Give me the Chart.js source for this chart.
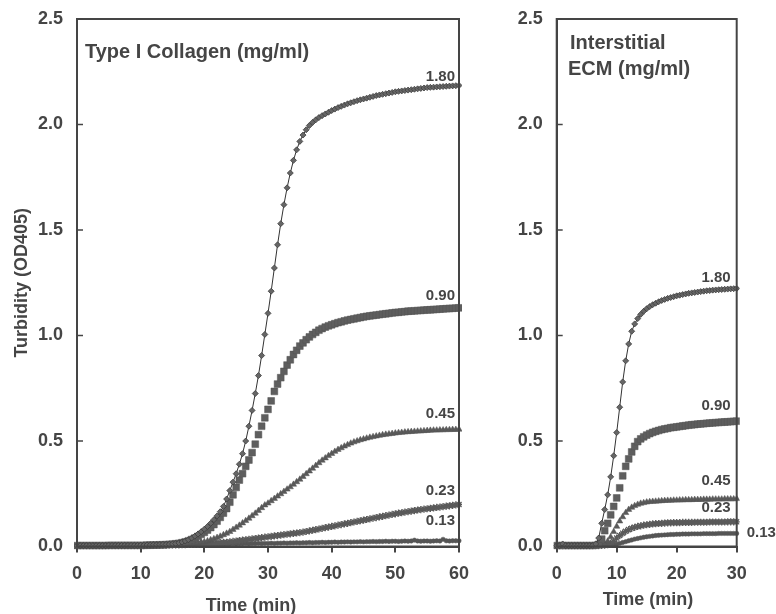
<!DOCTYPE html>
<html>
<head>
<meta charset="utf-8">
<title>Turbidity (OD405)</title>
<script src="https://cdn.jsdelivr.net/npm/chart.js@4.4.1/dist/chart.umd.min.js"></script>
<style>
  html, body { margin: 0; padding: 0; background: #fff; }
  body { width: 776px; height: 614px; position: relative; overflow: hidden; }
  canvas { position: absolute; top: 0; }
  #collagen { left: 0; }
  #ecm { left: 480px; }
</style>
</head>
<body>
<canvas id="collagen" width="470" height="614"></canvas>
<canvas id="ecm" width="296" height="614"></canvas>
<script>
// readings every 0.5 min
const STEP = 0.5;

const concLabels = ['1.80', '0.90', '0.45', '0.23', '0.13'];
const yTicks = [0, 0.5, 1.0, 1.5, 2.0, 2.5];
const xTicksCollagen = [0, 10, 20, 30, 40, 50, 60];
const xTicksEcm = [0, 10, 20, 30];

// Type I collagen, 0-60 min
const col180 = [
  0.004,0.004,0.004,0.004,0.004,0.004,0.004,0.004,0.004,0.004,
  0.005,0.005,0.005,0.005,0.005,0.005,0.005,0.005,0.005,0.005,
  0.006,0.006,0.007,0.007,0.008,0.008,0.009,0.010,0.010,0.011,
  0.012,0.014,0.017,0.021,0.026,0.032,0.040,0.049,0.059,0.070,
  0.082,0.095,0.110,0.127,0.145,0.165,0.190,0.225,0.265,0.305,
  0.345,0.390,0.440,0.500,0.570,0.645,0.725,0.810,0.905,1.005,
  1.105,1.210,1.320,1.430,1.530,1.620,1.700,1.770,1.830,1.880,
  1.920,1.950,1.975,1.995,2.010,2.022,2.033,2.042,2.050,2.058,
  2.066,2.073,2.080,2.086,2.092,2.098,2.103,2.108,2.113,2.117,
  2.121,2.125,2.129,2.133,2.137,2.140,2.143,2.146,2.149,2.152,
  2.155,2.157,2.159,2.161,2.163,2.165,2.167,2.169,2.171,2.173,
  2.175,2.176,2.177,2.178,2.179,2.180,2.181,2.182,2.183,2.184,
  2.185
];
const col090 = [
  0.004,0.004,0.004,0.004,0.004,0.004,0.004,0.004,0.004,0.004,
  0.005,0.005,0.005,0.005,0.005,0.005,0.005,0.005,0.005,0.005,
  0.005,0.005,0.006,0.006,0.007,0.007,0.008,0.008,0.009,0.010,
  0.011,0.013,0.015,0.018,0.022,0.027,0.033,0.040,0.048,0.057,
  0.067,0.078,0.090,0.104,0.120,0.138,0.158,0.180,0.210,0.245,
  0.280,0.315,0.345,0.380,0.410,0.445,0.485,0.530,0.570,0.610,
  0.650,0.690,0.735,0.770,0.800,0.830,0.860,0.885,0.910,0.930,
  0.950,0.965,0.980,0.993,1.005,1.015,1.025,1.033,1.040,1.046,
  1.051,1.056,1.061,1.065,1.069,1.073,1.076,1.079,1.082,1.085,
  1.088,1.091,1.093,1.095,1.097,1.099,1.101,1.103,1.105,1.107,
  1.109,1.110,1.112,1.113,1.115,1.116,1.117,1.118,1.119,1.120,
  1.121,1.122,1.123,1.124,1.125,1.126,1.127,1.128,1.129,1.130,
  1.131
];
const col045 = [
  0.004,0.004,0.004,0.004,0.004,0.004,0.004,0.004,0.004,0.004,
  0.004,0.004,0.004,0.004,0.004,0.004,0.004,0.004,0.004,0.004,
  0.004,0.005,0.005,0.005,0.006,0.006,0.006,0.007,0.007,0.008,
  0.008,0.009,0.010,0.011,0.012,0.013,0.015,0.017,0.019,0.021,
  0.022,0.026,0.031,0.036,0.042,0.048,0.055,0.062,0.070,0.080,
  0.090,0.100,0.111,0.122,0.133,0.145,0.157,0.170,0.183,0.196,
  0.205,0.216,0.227,0.238,0.249,0.260,0.271,0.282,0.294,0.306,
  0.318,0.331,0.344,0.357,0.370,0.383,0.396,0.408,0.419,0.430,
  0.440,0.450,0.459,0.467,0.475,0.482,0.489,0.495,0.500,0.505,
  0.509,0.513,0.517,0.520,0.523,0.526,0.529,0.531,0.533,0.535,
  0.537,0.539,0.540,0.542,0.543,0.544,0.545,0.546,0.547,0.548,
  0.549,0.550,0.551,0.551,0.552,0.552,0.553,0.553,0.554,0.554,
  0.555
];
const col023 = [
  0.004,0.004,0.004,0.004,0.004,0.004,0.004,0.004,0.004,0.004,
  0.004,0.004,0.004,0.004,0.004,0.004,0.004,0.004,0.004,0.004,
  0.004,0.004,0.005,0.005,0.005,0.005,0.006,0.006,0.006,0.007,
  0.007,0.008,0.008,0.009,0.009,0.010,0.010,0.011,0.011,0.012,
  0.013,0.014,0.015,0.016,0.017,0.018,0.019,0.020,0.022,0.024,
  0.026,0.028,0.030,0.032,0.034,0.036,0.038,0.040,0.042,0.044,
  0.046,0.048,0.050,0.052,0.054,0.056,0.058,0.060,0.062,0.064,
  0.066,0.068,0.071,0.074,0.077,0.080,0.083,0.086,0.089,0.092,
  0.095,0.098,0.101,0.104,0.107,0.110,0.113,0.116,0.119,0.122,
  0.125,0.128,0.131,0.134,0.137,0.140,0.143,0.146,0.149,0.152,
  0.155,0.158,0.160,0.163,0.165,0.168,0.170,0.173,0.175,0.177,
  0.179,0.181,0.183,0.185,0.187,0.189,0.191,0.193,0.195,0.197,
  0.199
];
const col013 = [
  0.003,0.004,0.003,0.004,0.004,0.003,0.004,0.004,0.005,0.004,
  0.004,0.005,0.004,0.005,0.005,0.004,0.005,0.005,0.006,0.005,
  0.005,0.006,0.006,0.005,0.006,0.007,0.006,0.007,0.007,0.008,
  0.007,0.008,0.008,0.009,0.008,0.009,0.009,0.010,0.009,0.010,
  0.010,0.011,0.010,0.011,0.011,0.012,0.011,0.012,0.012,0.013,
  0.012,0.013,0.013,0.014,0.013,0.014,0.014,0.015,0.014,0.015,
  0.015,0.016,0.015,0.016,0.016,0.017,0.016,0.017,0.017,0.018,
  0.017,0.018,0.018,0.019,0.018,0.019,0.019,0.020,0.019,0.020,
  0.020,0.021,0.020,0.021,0.021,0.022,0.021,0.022,0.022,0.023,
  0.022,0.023,0.023,0.024,0.023,0.024,0.024,0.025,0.024,0.025,
  0.025,0.024,0.025,0.026,0.025,0.026,0.030,0.026,0.025,0.026,
  0.026,0.025,0.026,0.027,0.026,0.034,0.027,0.026,0.027,0.027,
  0.027
];

// interstitial ECM, 0-30 min
const ecm180 = [
  0.004,0.004,0.012,0.004,0.004,0.004,0.004,0.004,0.004,0.004,
  0.004,0.004,0.005,0.012,0.040,0.110,0.175,0.245,0.330,0.430,
  0.540,0.660,0.780,0.880,0.960,1.020,1.055,1.080,1.100,1.115,
  1.127,1.137,1.146,1.153,1.160,1.166,1.171,1.176,1.180,1.184,
  1.188,1.191,1.194,1.197,1.200,1.202,1.204,1.206,1.208,1.210,
  1.212,1.213,1.215,1.216,1.217,1.218,1.219,1.220,1.221,1.222,
  1.223
];
const ecm090 = [
  0.004,0.004,0.004,0.004,0.004,0.004,0.004,0.004,0.004,0.004,
  0.004,0.004,0.004,0.005,0.010,0.035,0.075,0.110,0.150,0.190,
  0.230,0.278,0.335,0.380,0.415,0.448,0.475,0.497,0.510,0.520,
  0.528,0.535,0.541,0.546,0.550,0.554,0.557,0.560,0.563,0.565,
  0.567,0.569,0.571,0.573,0.575,0.577,0.578,0.580,0.581,0.582,
  0.584,0.585,0.586,0.587,0.588,0.589,0.590,0.591,0.592,0.593,
  0.594
];
const ecm045 = [
  0.004,0.004,0.004,0.004,0.004,0.004,0.004,0.004,0.004,0.004,
  0.004,0.004,0.004,0.004,0.005,0.007,0.012,0.025,0.045,0.070,
  0.095,0.120,0.140,0.160,0.175,0.185,0.193,0.199,0.204,0.207,
  0.210,0.212,0.213,0.214,0.215,0.216,0.217,0.218,0.218,0.219,
  0.219,0.220,0.220,0.221,0.221,0.221,0.222,0.222,0.222,0.223,
  0.223,0.223,0.224,0.224,0.224,0.224,0.225,0.225,0.225,0.225,
  0.226
];
const ecm023 = [
  0.004,0.004,0.004,0.004,0.004,0.004,0.004,0.004,0.004,0.004,
  0.004,0.004,0.004,0.004,0.004,0.005,0.006,0.009,0.015,0.025,
  0.040,0.052,0.063,0.072,0.080,0.086,0.091,0.095,0.098,0.101,
  0.103,0.105,0.107,0.108,0.109,0.110,0.111,0.112,0.112,0.113,
  0.113,0.113,0.114,0.114,0.114,0.114,0.115,0.115,0.115,0.115,
  0.115,0.116,0.116,0.116,0.116,0.116,0.116,0.117,0.117,0.117,
  0.117
];
const ecm013 = [
  0.003,0.003,0.003,0.003,0.003,0.003,0.003,0.003,0.003,0.003,
  0.003,0.003,0.003,0.003,0.003,0.003,0.004,0.005,0.006,0.008,
  0.011,0.015,0.019,0.023,0.027,0.031,0.035,0.038,0.041,0.044,
  0.046,0.048,0.050,0.052,0.053,0.054,0.055,0.056,0.057,0.057,
  0.058,0.058,0.059,0.059,0.059,0.060,0.060,0.060,0.060,0.061,
  0.061,0.061,0.061,0.061,0.062,0.062,0.062,0.062,0.062,0.062,
  0.062
];

const INK = '#454545';
const FONT = '"Liberation Sans", Arial, Helvetica, sans-serif';

// one marker per concentration, in concLabels order
const markers = [
  { style: 'rectRot',  r: 3,   fill: '#666', edge: '#3d3d3d', bw: 0.8, line: 1 },
  { style: 'rect',     r: 4.8, fill: '#5e5e5e', edge: '#555', bw: 0.5, line: 0 },
  { style: 'triangle', r: 3.6, fill: '#5a5a5a', edge: '#555', bw: 0.5, line: 0 },
  { style: 'star',     r: 3.6, fill: '#5a5a5a', edge: '#5a5a5a', bw: 1.3, line: 0 },
  { style: 'circle',   r: 2.2, fill: '#555', edge: '#555', bw: 0.5, line: 2 }
];

const points = vals => vals.map((v, i) => ({ x: i * STEP, y: v }));

function datasets(series) {
  return series.map((vals, i) => {
    const m = markers[i];
    return {
      label: concLabels[i],
      data: points(vals),
      showLine: m.line > 0,
      borderColor: '#333',
      borderWidth: m.line,
      pointStyle: m.style,
      pointRadius: m.r,
      pointHoverRadius: m.r,
      pointBackgroundColor: m.fill,
      pointBorderColor: m.edge,
      pointBorderWidth: m.bw,
      clip: 3
    };
  });
}

// frame, inward y ticks, panel heading, x title and concentration labels
function panelPlugin(cfg) {
  return {
    id: 'panelDecor',
    afterDraw(chart) {
      const { ctx, chartArea: a, scales: { y } } = chart;
      ctx.save();
      ctx.strokeStyle = INK;
      ctx.lineWidth = 2;
      ctx.strokeRect(a.left, a.top, a.right - a.left, a.bottom - a.top);
      ctx.lineWidth = 1.5;
      y.ticks.forEach(t => {
        const py = y.getPixelForValue(t.value);
        ctx.beginPath();
        ctx.moveTo(a.left, py);
        ctx.lineTo(a.left + 6, py);
        ctx.stroke();
      });

      ctx.fillStyle = INK;
      ctx.textAlign = 'left';
      ctx.textBaseline = 'alphabetic';
      ctx.font = `bold 20px ${FONT}`;
      cfg.heading.forEach(([txt, tx, ty]) => ctx.fillText(txt, tx, ty));

      ctx.textAlign = 'center';
      ctx.font = `bold 18px ${FONT}`;
      ctx.fillText('Time (min)', cfg.xTitle[0], cfg.xTitle[1]);

      ctx.font = `bold 15px ${FONT}`;
      ctx.textBaseline = 'middle';
      chart.data.datasets.forEach((ds, i) => {
        const last = ds.data[ds.data.length - 1];
        const py = y.getPixelForValue(last.y) - cfg.lift[i];
        if (cfg.outside[i]) {
          ctx.textAlign = 'left';
          ctx.fillText(ds.label, a.right + 10, py);
        } else {
          ctx.textAlign = 'right';
          ctx.fillText(ds.label, a.right - cfg.gap, py);
        }
      });
      ctx.restore();
    }
  };
}

function makePanel(id, series, xMax, xTicks, opts) {
  const canvas = document.getElementById(id);
  return new Chart(canvas, {
    type: 'scatter',
    data: { datasets: datasets(series) },
    options: {
      responsive: false,
      animation: false,
      devicePixelRatio: 1,
      layout: { padding: { top: 19, right: opts.padRight, left: 0, bottom: 0 } },
      plugins: { legend: { display: false }, tooltip: { enabled: false } },
      scales: {
        x: {
          type: 'linear',
          min: 0, max: xMax,
          afterBuildTicks: s => { s.ticks = xTicks.map(v => ({ value: v })); },
          afterFit: s => {
            s.height = 614 - 546.5;
            s.paddingLeft = 0;
            s.paddingRight = 0;
          },
          ticks: {
            color: INK, padding: 11,
            font: { family: FONT, size: 18, weight: 'bold' },
            callback: v => String(v)
          },
          grid: { drawOnChartArea: false, drawTicks: true, tickLength: 6, lineWidth: 2, color: INK },
          border: { display: true, width: 2, color: INK }
        },
        y: {
          type: 'linear',
          min: 0, max: 2.5,
          afterBuildTicks: s => { s.ticks = yTicks.map(v => ({ value: v })); },
          afterFit: s => {
            s.width = opts.axisWidth;
            s.paddingTop = 0;
            s.paddingBottom = 0;
          },
          ticks: {
            color: INK, padding: 14,
            font: { family: FONT, size: 18, weight: 'bold' },
            callback: v => v.toFixed(1)
          },
          grid: { display: false, drawTicks: false },
          border: { display: true, width: 2, color: INK },
          title: {
            display: !!opts.yTitle,
            text: opts.yTitle || '',
            color: INK,
            font: { family: FONT, size: 18, weight: 'bold' },
            padding: { top: 11, bottom: 0 }
          }
        }
      }
    },
    plugins: [panelPlugin(opts)]
  });
}

makePanel('collagen', [col180, col090, col045, col023, col013], 60, xTicksCollagen, {
  padRight: 11,
  axisWidth: 77,
  yTitle: 'Turbidity (OD405)',
  heading: [['Type I Collagen (mg/ml)', 85, 58]],
  xTitle: [251, 611],
  lift: [9, 12, 16, 14, 20],
  outside: [false, false, false, false, false],
  gap: 4
});

makePanel('ecm', [ecm180, ecm090, ecm045, ecm023, ecm013], 30, xTicksEcm, {
  padRight: 39.3,
  axisWidth: 76.7,
  heading: [['Interstitial', 90, 48.5], ['ECM (mg/ml)', 88, 75]],
  xTitle: [168, 605],
  lift: [11, 15, 18, 14, 1],
  outside: [false, false, false, false, true],
  gap: 6
});
</script>
</body>
</html>
